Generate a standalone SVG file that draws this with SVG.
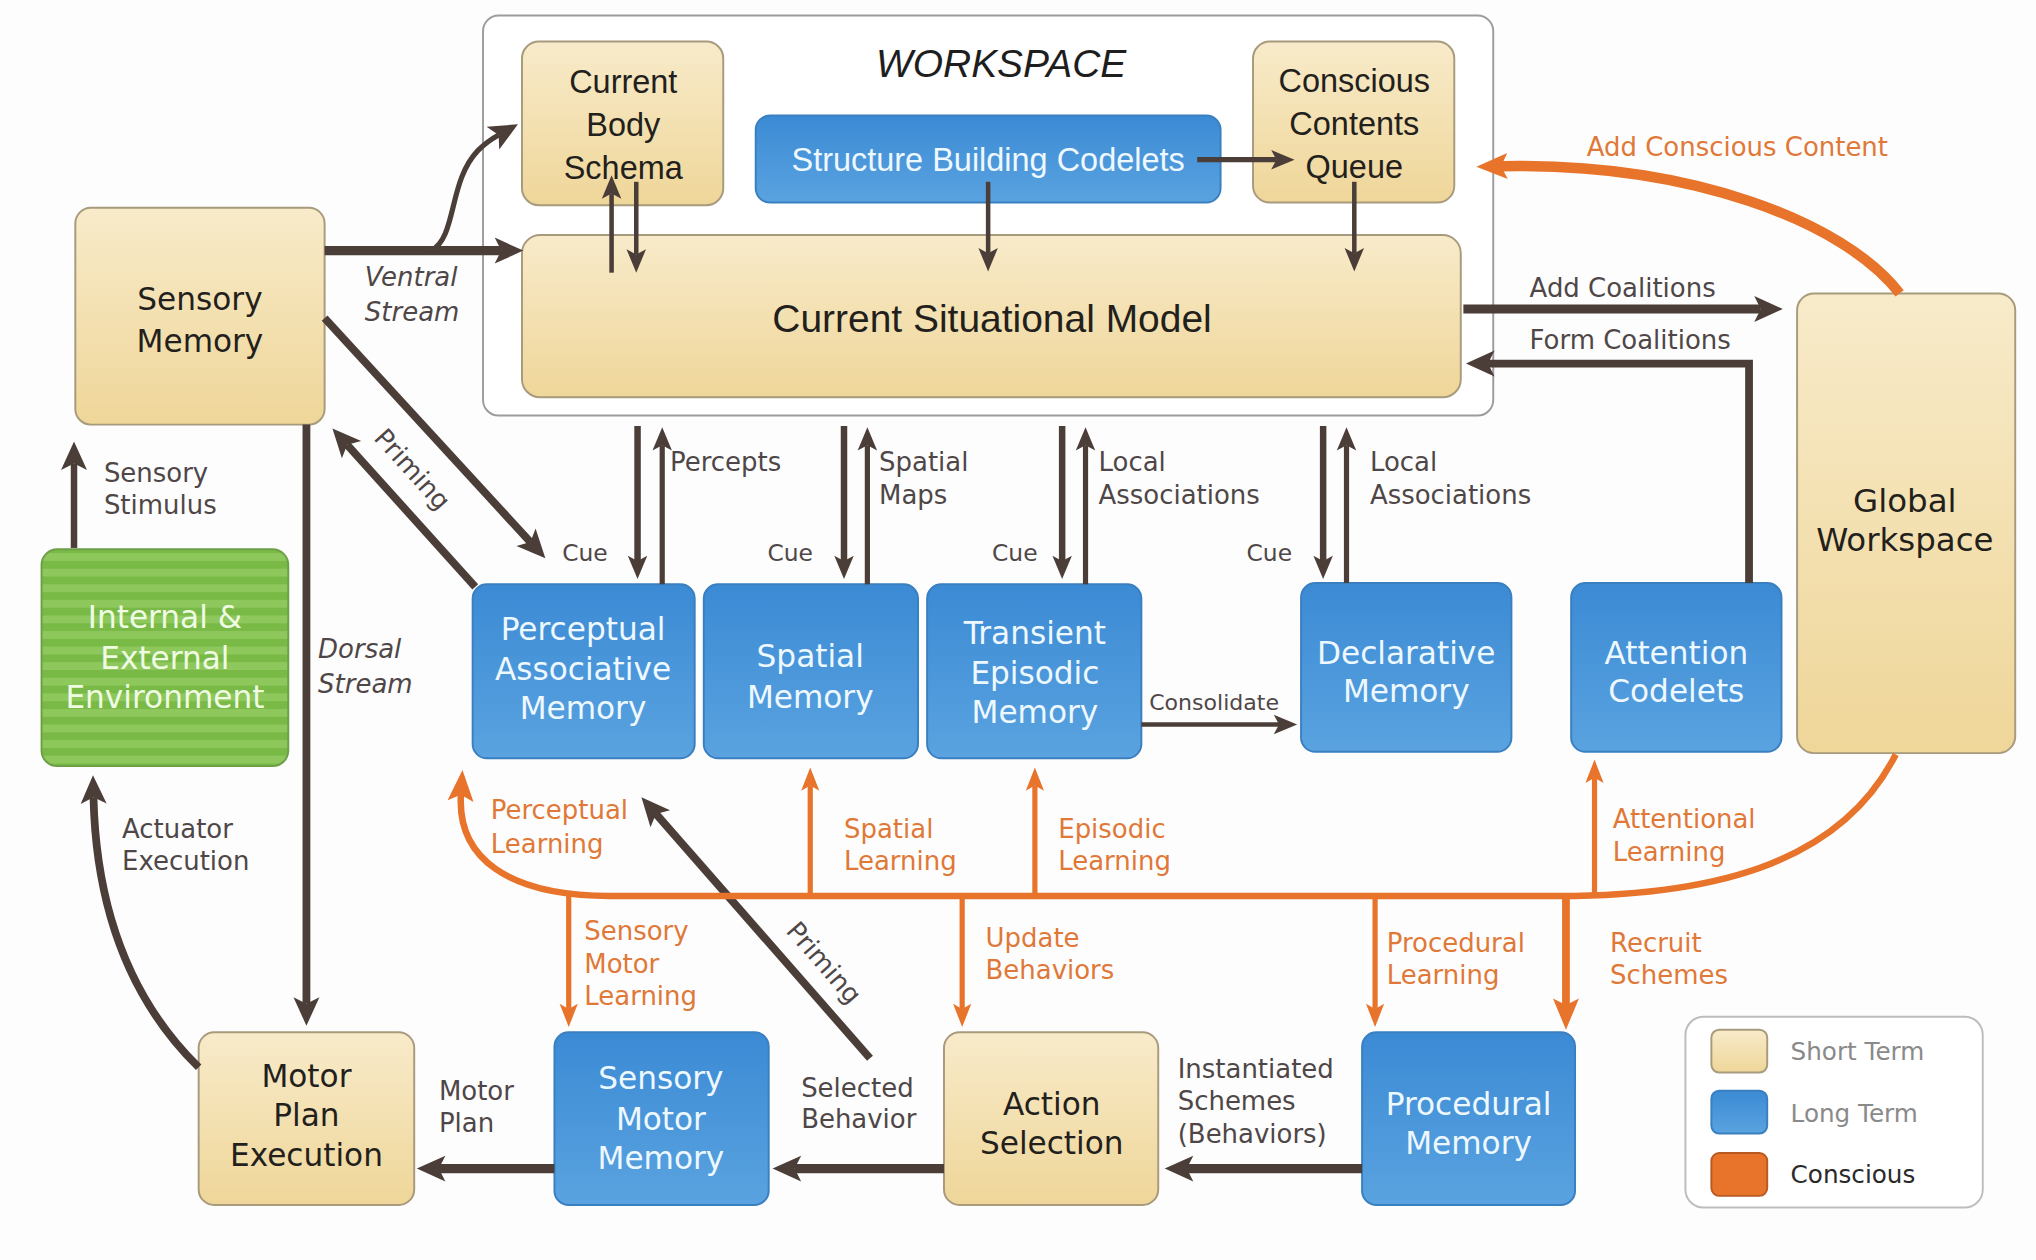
<svg xmlns="http://www.w3.org/2000/svg" width="2036" height="1260" viewBox="0 0 2036 1260">
<style>
.bg{fill:#fdfdfd}
.st{fill:url(#gBeige);stroke:#a89a7c;stroke-width:1.5}
.lt{fill:url(#gBlue);stroke:#3a7fc0;stroke-width:1.5}
.env{fill:url(#stripes);stroke:#6d9f47;stroke-width:1.5}
.ws{fill:#ffffff;stroke:#9c9c9c;stroke-width:1.5}
.g{font-family:"DejaVu Sans","Liberation Sans",sans-serif}
.a{font-family:"Liberation Sans",Arial,sans-serif}
.bt{font-size:24px;fill:#231f1c;text-anchor:middle}
.wt{font-size:24px;fill:#eef8ff;text-anchor:middle}
.et{font-size:24px;fill:#effbe3;text-anchor:middle}
.lb{font-size:20px;fill:#4f4747}
.ol{font-size:20px;fill:#e07838}
.dk{fill:none;stroke:#4b3e38}
.or{fill:none;stroke:#e8732a}
</style>
<defs>
<linearGradient id="gBeige" x1="0" y1="0" x2="0" y2="1">
<stop offset="0" stop-color="#f8ebca"/>
<stop offset="1" stop-color="#efd699"/>
</linearGradient>
<linearGradient id="gBlue" x1="0" y1="0" x2="0" y2="1">
<stop offset="0" stop-color="#3b8ad4"/>
<stop offset="1" stop-color="#5aa3e0"/>
</linearGradient>
<pattern id="stripes" patternUnits="userSpaceOnUse" width="20" height="12">
<rect width="20" height="12" fill="#79ba46"/>
<rect y="6" width="20" height="6" fill="#8ec85c"/>
</pattern>
<marker id="hB" markerUnits="userSpaceOnUse" markerWidth="26" markerHeight="22" refX="5" refY="10" orient="auto" overflow="visible"><path d="M0,0 L22,10 L0,20 L5,10 z" fill="#4b3e38"/></marker>
<marker id="hM" markerUnits="userSpaceOnUse" markerWidth="20" markerHeight="16" refX="4" refY="7.5" orient="auto" overflow="visible"><path d="M0,0 L18,7.5 L0,15 L4,7.5 z" fill="#4b3e38"/></marker>
<marker id="oB" markerUnits="userSpaceOnUse" markerWidth="26" markerHeight="22" refX="5" refY="10" orient="auto" overflow="visible"><path d="M0,0 L24,10 L0,20 L5,10 z" fill="#e8732a"/></marker>
<marker id="oM" markerUnits="userSpaceOnUse" markerWidth="20" markerHeight="16" refX="4" refY="7" orient="auto" overflow="visible"><path d="M0,0 L18,7 L0,14 L4,7 z" fill="#e8732a"/></marker>
</defs>
<rect class="bg" x="0" y="0" width="2036" height="1260"/>
<g transform="scale(1.298469)">

<g id="workspace">
<rect class="ws" x="372" y="12" width="778" height="308" rx="12"/>
<text class="a" x="771" y="59" font-size="30" font-style="italic" fill="#1e1e1e" text-anchor="middle">WORKSPACE</text>
</g>

<g id="current-body-schema">
<rect class="st" x="402" y="32" width="155" height="126" rx="13"/>
<text class="a bt" font-size="25" x="480" y="72" style="font-size:25px">Current</text>
<text class="a bt" x="480" y="105" style="font-size:25px">Body</text>
<text class="a bt" x="480" y="138" style="font-size:25px">Schema</text>
</g>

<g id="structure-building-codelets">
<rect class="lt" x="582" y="89" width="358" height="67" rx="11"/>
<text class="a wt" x="761" y="132" style="font-size:25px">Structure Building Codelets</text>
</g>

<g id="conscious-contents-queue">
<rect class="st" x="965" y="32" width="155" height="124" rx="13"/>
<text class="a bt" x="1043" y="71" style="font-size:25px">Conscious</text>
<text class="a bt" x="1043" y="104" style="font-size:25px">Contents</text>
<text class="a bt" x="1043" y="137" style="font-size:25px">Queue</text>
</g>

<g id="current-situational-model">
<rect class="st" x="402" y="181" width="723" height="125" rx="14"/>
<text class="a bt" x="764" y="256" style="font-size:30px">Current Situational Model</text>
</g>

<g id="sensory-memory">
<rect class="st" x="58" y="160" width="192" height="167" rx="12"/>
<text class="g bt" x="154" y="239">Sensory</text>
<text class="g bt" x="154" y="271">Memory</text>
</g>

<g id="environment">
<rect class="env" x="32" y="423" width="190" height="167" rx="12"/>
<text class="g et" x="127" y="484">Internal &amp;</text>
<text class="g et" x="127" y="515">External</text>
<text class="g et" x="127" y="545">Environment</text>
</g>

<g id="perceptual-associative-memory">
<rect class="lt" x="364" y="450" width="171" height="134" rx="11"/>
<text class="g wt" x="449" y="493">Perceptual</text>
<text class="g wt" x="449" y="524">Associative</text>
<text class="g wt" x="449" y="554">Memory</text>
</g>

<g id="spatial-memory">
<rect class="lt" x="542" y="450" width="165" height="134" rx="11"/>
<text class="g wt" x="624" y="514">Spatial</text>
<text class="g wt" x="624" y="545">Memory</text>
</g>

<g id="transient-episodic-memory">
<rect class="lt" x="714" y="450" width="165" height="134" rx="11"/>
<text class="g wt" x="797" y="496">Transient</text>
<text class="g wt" x="797" y="527">Episodic</text>
<text class="g wt" x="797" y="557">Memory</text>
</g>

<g id="declarative-memory">
<rect class="lt" x="1002" y="449" width="162" height="130" rx="11"/>
<text class="g wt" x="1083" y="511">Declarative</text>
<text class="g wt" x="1083" y="541">Memory</text>
</g>

<g id="attention-codelets">
<rect class="lt" x="1210" y="449" width="162" height="130" rx="11"/>
<text class="g wt" x="1291" y="511">Attention</text>
<text class="g wt" x="1291" y="541">Codelets</text>
</g>

<g id="global-workspace">
<rect class="st" x="1384" y="226" width="168" height="354" rx="13"/>
<text class="g bt" x="1467" y="394" style="font-size:25px">Global</text>
<text class="g bt" x="1467" y="424" style="font-size:25px">Workspace</text>
</g>

<g id="motor-plan-execution">
<rect class="st" x="153" y="795" width="166" height="133" rx="12"/>
<text class="g bt" x="236" y="837">Motor</text>
<text class="g bt" x="236" y="867">Plan</text>
<text class="g bt" x="236" y="898">Execution</text>
</g>

<g id="sensory-motor-memory">
<rect class="lt" x="427" y="795" width="165" height="133" rx="11"/>
<text class="g wt" x="509" y="839">Sensory</text>
<text class="g wt" x="509" y="870">Motor</text>
<text class="g wt" x="509" y="900">Memory</text>
</g>

<g id="action-selection">
<rect class="st" x="727" y="795" width="165" height="133" rx="12"/>
<text class="g bt" x="810" y="859">Action</text>
<text class="g bt" x="810" y="889">Selection</text>
</g>

<g id="procedural-memory">
<rect class="lt" x="1049" y="795" width="164" height="133" rx="11"/>
<text class="g wt" x="1131" y="859">Procedural</text>
<text class="g wt" x="1131" y="889">Memory</text>
</g>

<g id="legend">
<rect x="1298" y="783" width="229" height="147" rx="14" fill="#ffffff" stroke="#bdbdbd" stroke-width="1.5"/>
<rect class="st" x="1318" y="793" width="43" height="33" rx="6"/>
<rect class="lt" x="1318" y="840" width="43" height="33" rx="6"/>
<rect x="1318" y="888" width="43" height="33" rx="6" fill="#e8732a" stroke="#b85a22" stroke-width="1.5"/>
<text class="g" x="1379" y="816" font-size="19" fill="#8a8a8a">Short Term</text>
<text class="g" x="1379" y="864" font-size="19" fill="#8a8a8a">Long Term</text>
<text class="g" x="1379" y="911" font-size="19" fill="#2a2a2a">Conscious</text>
</g>

<g id="connectors">
<!-- dark connectors -->
<path class="dk" stroke-width="7" d="M250,193 H386" marker-end="url(#hB)"/>
<path class="dk" stroke-width="4" d="M332,193 C352,183 345,140 368,116 Q375,109 384,104" marker-end="url(#hB)"/>
<path class="dk" stroke-width="3.5" d="M471,210 V149" marker-end="url(#hM)"/>
<path class="dk" stroke-width="3.5" d="M490,140 V196" marker-end="url(#hM)"/>
<path class="dk" stroke-width="4" d="M922,123 H983" marker-end="url(#hM)"/>
<path class="dk" stroke-width="3.5" d="M761,140 V195" marker-end="url(#hM)"/>
<path class="dk" stroke-width="3.5" d="M1043,140 V195" marker-end="url(#hM)"/>
<path class="dk" stroke-width="6" d="M250,245 L408.5,417.5" marker-end="url(#hB)"/>
<path class="dk" stroke-width="6" d="M366,452 L267.4,342.6" marker-end="url(#hB)"/>
<path class="dk" stroke-width="6" d="M236,327 V773" marker-end="url(#hB)"/>
<path class="dk" stroke-width="5" d="M57,422 V357" marker-end="url(#hB)"/>
<path class="dk" stroke-width="6" d="M153,822 C100,770 74,700 72,614" marker-end="url(#hB)"/>
<path class="dk" stroke-width="7" d="M427,900 H338" marker-end="url(#hB)"/>
<path class="dk" stroke-width="7" d="M727,900 H612" marker-end="url(#hB)"/>
<path class="dk" stroke-width="6" d="M670,815 L505.2,626.8" marker-end="url(#hB)"/>
<path class="dk" stroke-width="7" d="M1049,900 H914" marker-end="url(#hB)"/>
<path class="dk" stroke-width="5" d="M491,328 V432" marker-end="url(#hM)"/>
<path class="dk" stroke-width="4" d="M510,450 V343" marker-end="url(#hM)"/>
<path class="dk" stroke-width="5" d="M650,328 V432" marker-end="url(#hM)"/>
<path class="dk" stroke-width="4" d="M668,450 V343" marker-end="url(#hM)"/>
<path class="dk" stroke-width="5" d="M818,328 V432" marker-end="url(#hM)"/>
<path class="dk" stroke-width="4" d="M836,450 V343" marker-end="url(#hM)"/>
<path class="dk" stroke-width="5" d="M1019,328 V432" marker-end="url(#hM)"/>
<path class="dk" stroke-width="4" d="M1037,449 V343" marker-end="url(#hM)"/>
<path class="dk" stroke-width="3.5" d="M879,558 H985" marker-end="url(#hM)"/>
<path class="dk" stroke-width="7" d="M1127,238 H1356" marker-end="url(#hB)"/>
<path class="dk" stroke-width="6" d="M1347,449 V280 H1146" marker-end="url(#hB)"/>
<!-- orange (conscious) connectors -->
<path class="or" stroke-width="8" d="M1463,226 C1420,170 1300,125 1156,128" marker-end="url(#oB)"/>
<path class="or" stroke-width="5" d="M1460,581 C1420,660 1330,690 1200,690 H470 C390,690 352,660 355,612" marker-end="url(#oB)"/>
<path class="or" stroke-width="4" d="M624,690 V605" marker-end="url(#oM)"/>
<path class="or" stroke-width="4" d="M797,690 V605" marker-end="url(#oM)"/>
<path class="or" stroke-width="4" d="M1228,690 V599" marker-end="url(#oM)"/>
<path class="or" stroke-width="4" d="M438,690 V777" marker-end="url(#oM)"/>
<path class="or" stroke-width="4" d="M741,690 V777" marker-end="url(#oM)"/>
<path class="or" stroke-width="4" d="M1059,690 V777" marker-end="url(#oM)"/>
<path class="or" stroke-width="6" d="M1206,690 V774" marker-end="url(#oB)"/>
</g>

<g id="edge-labels" class="g">
<text class="lb" x="281" y="220" font-style="italic" fill="#5a5252">Ventral</text>
<text class="lb" x="281" y="247" font-style="italic">Stream</text>
<text class="lb" x="245" y="507" font-style="italic">Dorsal</text>
<text class="lb" x="245" y="534" font-style="italic">Stream</text>
<text class="lb" x="80" y="371">Sensory</text>
<text class="lb" x="80" y="396">Stimulus</text>
<text class="lb" x="94" y="645">Actuator</text>
<text class="lb" x="94" y="670">Execution</text>
<text class="lb" x="338" y="847">Motor</text>
<text class="lb" x="338" y="872">Plan</text>
<text class="lb" x="617" y="845">Selected</text>
<text class="lb" x="617" y="869">Behavior</text>
<text class="lb" x="907" y="830">Instantiated</text>
<text class="lb" x="907" y="855">Schemes</text>
<text class="lb" x="907" y="880">(Behaviors)</text>
<text class="lb" transform="translate(317,362) rotate(48)" x="0" y="6" text-anchor="middle">Priming</text>
<text class="lb" transform="translate(634,742) rotate(49)" x="0" y="6" text-anchor="middle">Priming</text>
<text class="lb" x="516" y="363">Percepts</text>
<text class="lb" x="677" y="363">Spatial</text>
<text class="lb" x="677" y="388">Maps</text>
<text class="lb" x="846" y="363">Local</text>
<text class="lb" x="846" y="388">Associations</text>
<text class="lb" x="1055" y="363">Local</text>
<text class="lb" x="1055" y="388">Associations</text>
<text class="lb" x="433" y="432" style="font-size:18px">Cue</text>
<text class="lb" x="591" y="432" style="font-size:18px">Cue</text>
<text class="lb" x="764" y="432" style="font-size:18px">Cue</text>
<text class="lb" x="960" y="432" style="font-size:18px">Cue</text>
<text class="lb" x="885" y="547" style="font-size:17px">Consolidate</text>
<text class="lb" x="1178" y="229">Add Coalitions</text>
<text class="lb" x="1178" y="269">Form Coalitions</text>
<text class="ol" x="1222" y="120">Add Conscious Content</text>
<text class="ol" x="378" y="631">Perceptual</text>
<text class="ol" x="378" y="657">Learning</text>
<text class="ol" x="650" y="645">Spatial</text>
<text class="ol" x="650" y="670">Learning</text>
<text class="ol" x="815" y="645">Episodic</text>
<text class="ol" x="815" y="670">Learning</text>
<text class="ol" x="1242" y="638">Attentional</text>
<text class="ol" x="1242" y="663">Learning</text>
<text class="ol" x="450" y="724">Sensory</text>
<text class="ol" x="450" y="749">Motor</text>
<text class="ol" x="450" y="774">Learning</text>
<text class="ol" x="759" y="729">Update</text>
<text class="ol" x="759" y="754">Behaviors</text>
<text class="ol" x="1068" y="733">Procedural</text>
<text class="ol" x="1068" y="758">Learning</text>
<text class="ol" x="1240" y="733">Recruit</text>
<text class="ol" x="1240" y="758">Schemes</text>
</g>

</g>
</svg>
